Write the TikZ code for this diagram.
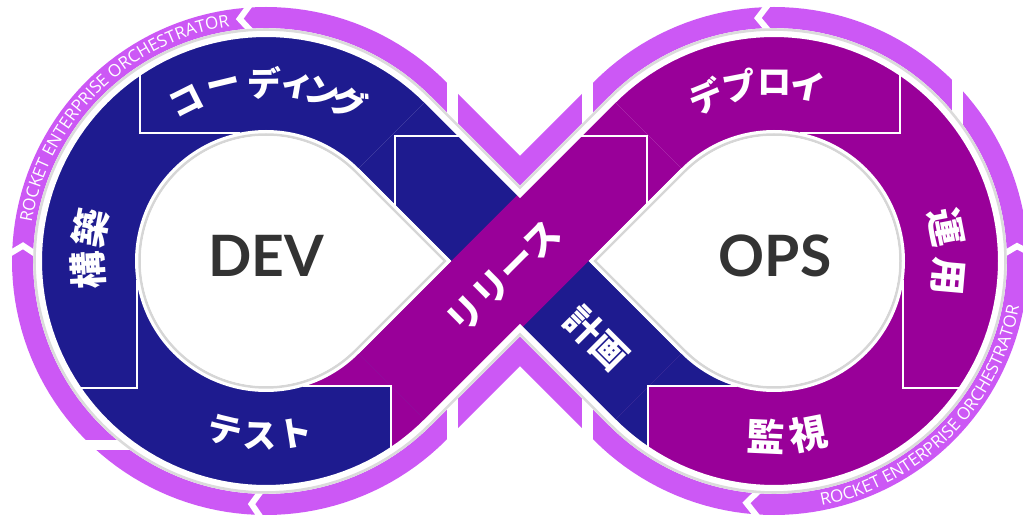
\documentclass[tikz,border=0pt]{standalone}
\usepackage{fontspec}
\newfontfamily\jpfont{Noto Sans CJK JP}
\newfontfamily\latofont{Lato}
\newfontfamily\ringfont{Open Sans}
\usetikzlibrary{decorations.text}
\definecolor{bluec}{HTML}{1E1B8F}
\definecolor{purc}{HTML}{990099}
\definecolor{pinkc}{HTML}{CC58F5}
\definecolor{txtgray}{HTML}{333333}
% chevron gap: centre x, centre y, tip angle, arm angle
\newcommand\chev[4]{\draw[gapline] ({#1+226*cos(#4)},{#2+226*sin(#4)}) -- ({#1+243.5*cos(#3)},{#2+243.5*sin(#3)}) -- ({#1+261*cos(#4)},{#2+261*sin(#4)});}
% glyph with top outward / inward: style, cx, cy, radius, angle, char, name
\newcommand\glo[7]{\node[#1,rotate={-(#5)-90}] (#7) at ({#2+#4*cos(#5)},{#3+#4*sin(#5)}) {#6};}
\newcommand\gli[7]{\node[#1,rotate={90-(#5)}] (#7) at ({#2+#4*cos(#5)},{#3+#4*sin(#5)}) {#6};}
\begin{document}
\begin{tikzpicture}[x=1pt,y=-1pt,
  infp/.style={insert path={plot[domain=45:315,samples=121] ({266+#1*cos(\x)},{261+#1*sin(\x)}) -- (520,{515-#1*1.41421}) -- plot[domain=225:495,samples=121] ({774+#1*cos(\x)},{261+#1*sin(\x)}) -- (520,{7+#1*1.41421}) -- cycle}},
  devtear/.style={insert path={plot[domain=45:315,samples=121] ({266+#1*cos(\x)},{261+#1*sin(\x)}) -- ({266+#1*1.41421},261) -- cycle}},
  opstear/.style={insert path={plot[domain=225:495,samples=121] ({774+#1*cos(\x)},{261+#1*sin(\x)}) -- ({774-#1*1.41421},261) -- cycle}},
  gapline/.style={white,line width=6pt,line join=miter},
  lline/.style={white,line width=2pt,line join=miter},
  kana/.style={text=white,inner sep=0pt,font=\jpfont\bfseries\fontsize{34}{34}\selectfont},
  kanji/.style={text=white,inner sep=0pt,font=\jpfont\bfseries\fontsize{38}{38}\selectfont},
  big/.style={text=txtgray,inner sep=0pt,font=\latofont\bfseries\fontsize{57}{57}\selectfont},
  ringtext/.style={decorate,decoration={text along path,text align=center,
     text={|\ringfont\fontsize{17}{17}\selectfont\color{white}|ROCKET ENTERPRISE ORCHESTRATOR}}}
]
\useasboundingbox (0,0) rectangle (1023,518);
% pink arrow ring
\draw[pinkc,line width=21pt,line join=miter,infp=243.5];
% chevron gaps
\chev{266}{261}{263.8}{267.2}
\chev{266}{261}{93.4}{90.5}
\chev{266}{261}{183.6}{181.0}
\chev{774}{261}{266.2}{269.5}
\chev{774}{261}{96.5}{92.8}
\chev{774}{261}{356.5}{358.8}
% step gaps
\fill[white] (447,55) rectangle (458,135);
\fill[white] (582,55) rectangle (593,135);
\fill[white] (447,385) rectangle (458,465);
\fill[white] (582,385) rectangle (593,465);
\fill[white] (55,440) rectangle (145,450);
\fill[white] (952,55) rectangle (963,135);
% ring texts
\path[ringtext] plot[domain=190.3:260.3,samples=60] ({266+237.5*cos(\x)},{261+237.5*sin(\x)});
\path[ringtext] plot[domain=79.75:9.75,samples=60] ({774+249.5*cos(\x)},{261+249.5*sin(\x)});
% bands
\fill[bluec] (266,261) -- plot[domain=45:315,samples=121] ({266+228*cos(\x)},{261+228*sin(\x)}) -- cycle;
\fill[purc] (774,261) -- plot[domain=225:495,samples=121] ({774+228*cos(\x)},{261+228*sin(\x)}) -- cycle;
\fill[bluec] (358.63,168.37) -- (427.22,99.78) -- (681.37,353.63) -- (612.78,422.22) -- cycle;
\begin{scope}
  \clip (774,261) circle [radius=228];
  \fill[bluec] (774,261) -- (774,386) -- (648,386) -- (648,520) -- (561.9,473.1) -- cycle;
\end{scope}
\fill[purc] (358.63,353.63) -- (612.78,99.78) -- (681.37,168.37) -- (427.22,422.22) -- cycle;
\begin{scope}
  \clip (266,261) circle [radius=228];
  \fill[purc] (266,261) -- (266,386) -- (391,386) -- (391,520) -- (478.1,473.1) -- cycle;
\end{scope}
% segment boundaries
\draw[lline] (140,69) -- (140,133) -- (240,133);
\draw[lline] (395,207) -- (395,136) -- (466,136);
\draw[lline] (648,456) -- (648,386) -- (737,386);
\draw[lline] (903,280) -- (903,388) -- (966,388);
\draw[lline] (900,69) -- (900,133) -- (800,133);
\draw[lline] (573,136) -- (647,136) -- (647,205);
\draw[lline] (303,386) -- (391,386) -- (391,456);
\draw[lline] (137,280) -- (137,388) -- (74,388);
% outline and shadow
\draw[white,line width=8pt,line join=miter,infp=228];
\draw[black!14,line width=2.6pt,line join=miter,infp=231.5];
% inner teardrops
\fill[white,devtear=131];
\fill[white,opstear=131];
\draw[black!16,line width=2.5pt,devtear=126.5];
\draw[black!16,line width=2.5pt,opstear=126.5];
\fill[white,devtear=125];
\fill[white,opstear=125];
% centre words
\node[big] (dev) at (266,256) {DEV};
\node[big] (ops) at (775,256) {OPS};
% labels
\glo{kana}{266}{261}{178}{243.5}{コ}{c1}
\glo{kana}{266}{261}{178}{256.5}{ー}{c2}
\glo{kana}{266}{261}{178}{269.5}{デ}{c3}
\glo{kana}{266}{261}{178}{280}{ィ}{c4}
\glo{kana}{266}{261}{178}{288.5}{ン}{c5}
\glo{kana}{266}{261}{178}{297.5}{グ}{c6}
\glo{kanji}{266}{261}{178}{177}{構}{k1}
\glo{kanji}{266}{261}{178}{190.5}{築}{k2}
\gli{kana}{266}{261}{175}{103.5}{テ}{t1}
\gli{kana}{266}{261}{175}{92}{ス}{t2}
\gli{kana}{266}{261}{175}{80.5}{ト}{t3}
\glo{kana}{774}{261}{178}{247.5}{デ}{d1}
\glo{kana}{774}{261}{178}{259}{プ}{d2}
\glo{kana}{774}{261}{178}{270.3}{ロ}{d3}
\glo{kana}{774}{261}{178}{281}{イ}{d4}
\glo{kanji}{774}{261}{175}{349}{運}{u1}
\glo{kanji}{774}{261}{175}{5}{用}{u2}
\gli{kanji}{774}{261}{176}{92.6}{監}{m1}
\gli{kanji}{774}{261}{176}{78.9}{視}{m2}
\node[kana,font=\jpfont\bfseries\fontsize{36}{36}\selectfont,rotate=45] (rel) at (504,277) {リリース};
\node[kanji,font=\jpfont\bfseries\fontsize{36}{36}\selectfont,rotate=-45] (plan) at (597,338) {計画};
\end{tikzpicture}
\end{document}
